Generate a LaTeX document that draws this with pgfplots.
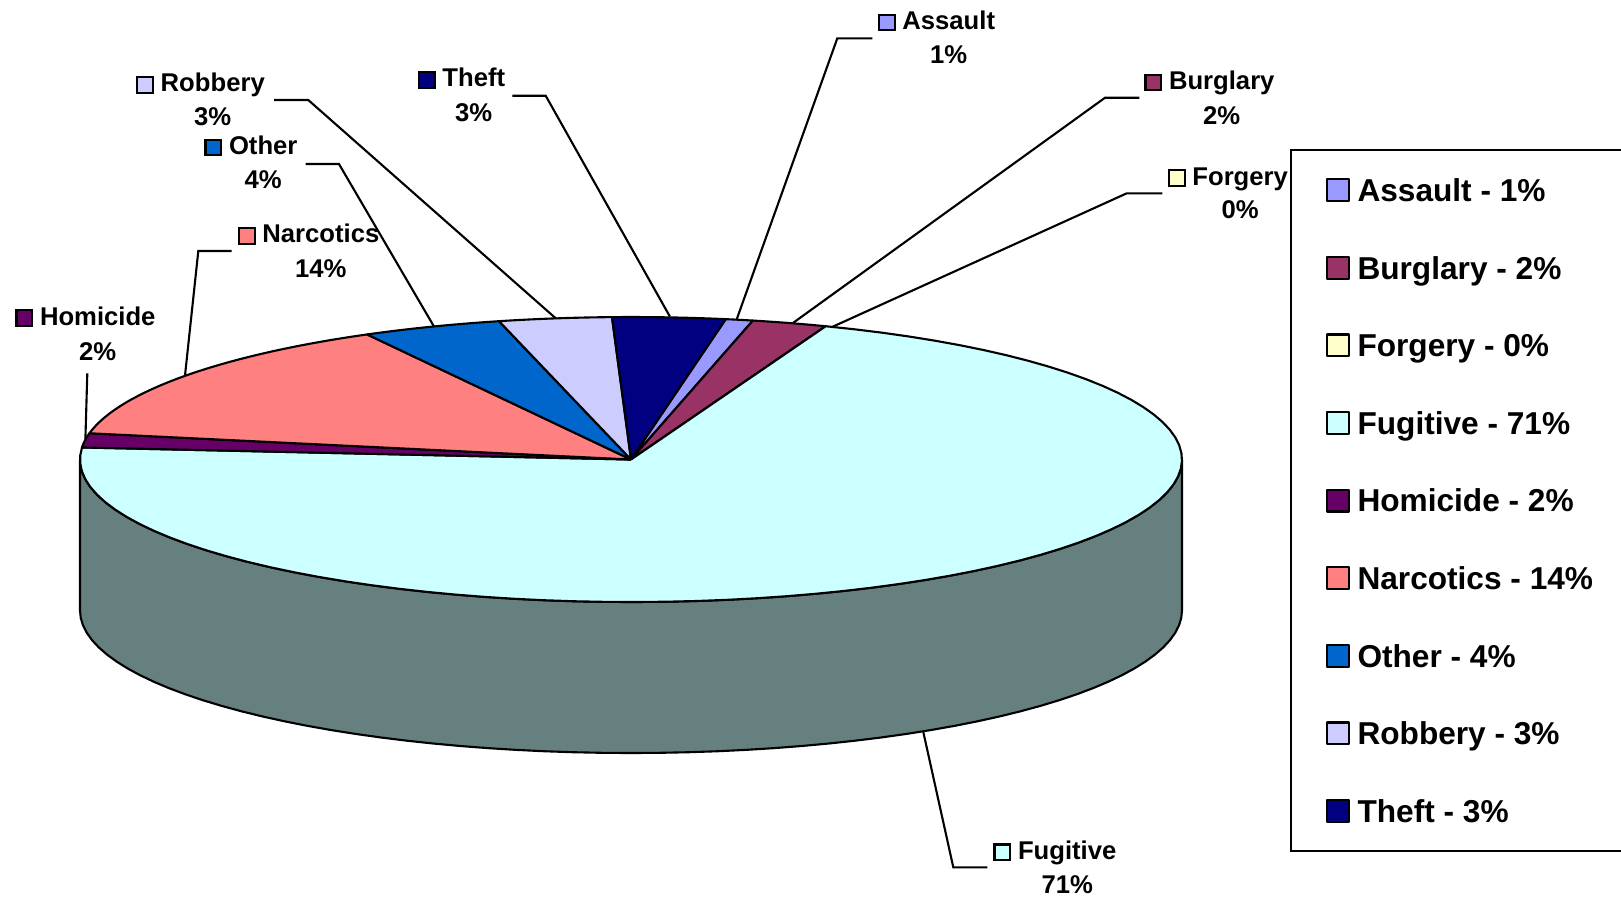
\documentclass[border=0pt]{standalone}
\usepackage{fontspec}
\setmainfont{Liberation Sans}
\usepackage{pgfplots}
\pgfplotsset{compat=1.18}
\definecolor{cAssault}{HTML}{9999FF}
\definecolor{cBurglary}{HTML}{993366}
\definecolor{cForgery}{HTML}{FFFFCC}
\definecolor{cFugitive}{HTML}{CCFFFF}
\definecolor{cHomicide}{HTML}{660066}
\definecolor{cNarcotics}{HTML}{FF8080}
\definecolor{cOther}{HTML}{0066CC}
\definecolor{cRobbery}{HTML}{CCCCFF}
\definecolor{cTheft}{HTML}{000080}
\definecolor{cSide}{HTML}{668080}
\newcommand\lblfont{\fontsize{7.3}{8}\selectfont\bfseries}
\newcommand\keybox[1]{{\fboxsep=0pt\fboxrule=0.6pt\fcolorbox{black}{#1}{\rule{0pt}{3.9pt}\hspace{3.9pt}}}}
% pie: centre (631,459.5), semi-axes 551 x 142.5, depth 151 (pixel units)
\def\cur{80.1}% first slice starts here (degrees)
\newcommand\slice[3]{%
  \pgfmathsetmacro\nxt{\cur-(#2)*3.6}%
  \edef\doslice{\noexpand\addplot[fill=#1, draw=black, line width=0.6pt, line join=round,
     domain=0:82, samples=83, variable=\noexpand\uu]
   ({631+(\noexpand\uu>0.5)*(\noexpand\uu<81.5)*551*cos(\cur+(\nxt-(\cur))*(\noexpand\uu-1)/80)},
    {459.5-(\noexpand\uu>0.5)*(\noexpand\uu<81.5)*142.5*sin(\cur+(\nxt-(\cur))*(\noexpand\uu-1)/80)});}%
  \doslice
  \addlegendentry{#3}%
  \global\let\cur\nxt
}
\newcommand\plabel[7]{% name, key colour, x, y of name baseline, pct text, node name, line gap
  \node[anchor=base west, inner sep=0pt, font=\lblfont] (#6) at (axis cs:#3,#4) {\llap{\keybox{#2}\hspace{1.9pt}}#1};
  \node[anchor=base, inner sep=0pt, font=\lblfont] at ([yshift=-#7]#6.base) {#5};
}
\begin{document}
\begin{tikzpicture}
\begin{axis}[
  scale only axis, width=16.21cm, height=9cm,
  xmin=0, xmax=1621, ymin=0, ymax=900, y dir=reverse,
  hide axis, clip=false,
  legend cell align=left,
  legend image code/.code={\draw[#1, draw=black, line width=0.6pt] (0pt,-3.1pt) rectangle (6.2pt,3.1pt);},
  legend style={at={(0.7958,0.8341)}, anchor=north west, draw=black, line width=0.6pt,
    inner xsep=10.05pt, inner ysep=7.12pt, row sep=13.68pt, column sep=2.06pt,
    font=\fontsize{9}{10}\selectfont\bfseries,
    nodes={inner sep=0pt, text height=7.4pt, text depth=1pt}},
]
% side wall (front part of the Fugitive slice)
\addplot[fill=cSide, draw=black, line width=0.6pt, line join=round, forget plot,
  domain=0:122, samples=123, variable=\uu]
 ({631+551*cos( (\uu<60.5) ? (180+3*\uu) : ((\uu<121.5) ? (360-3*(\uu-61)) : 180) )},
  {459.5-142.5*sin( (\uu<60.5) ? (180+3*\uu) : ((\uu<121.5) ? (360-3*(\uu-61)) : 180) )+151*(\uu>60.5)*(\uu<121.5)});
% slices (percent of total), clockwise
\slice{cAssault}{0.8}{Assault - 1\%}
\slice{cBurglary}{2.2}{Burglary - 2\%}
\slice{cForgery}{0}{Forgery - 0\%}
\slice{cFugitive}{70.6}{Fugitive - 71\%}
\slice{cHomicide}{1.6}{Homicide - 2\%}
\slice{cNarcotics}{14.1}{Narcotics - 14\%}
\slice{cOther}{4.1}{Other - 4\%}
\slice{cRobbery}{3.3}{Robbery - 3\%}
\slice{cTheft}{3.3}{Theft - 3\%}
% leader lines
\addplot[black, line width=0.6pt, forget plot] coordinates {(736.7,319.3) (837.3,38.3) (872.3,38.3)};
\addplot[black, line width=0.6pt, forget plot] coordinates {(793.3,322.7) (1105,97.7) (1139.3,97.7)};
\addplot[black, line width=0.6pt, forget plot] coordinates {(832,327) (1126.7,193.3) (1162.3,193.3)};
\addplot[black, line width=0.6pt, forget plot] coordinates {(923.3,732) (953.3,867.3) (987.3,867.3)};
\addplot[black, line width=0.6pt, forget plot] coordinates {(85.4,439) (87.3,373.3)};
\addplot[black, line width=0.6pt, forget plot] coordinates {(185,375.5) (198.3,251) (231.7,251)};
\addplot[black, line width=0.6pt, forget plot] coordinates {(434,326.5) (339,164) (305.7,164)};
\addplot[black, line width=0.6pt, forget plot] coordinates {(556,318.5) (308.3,100) (274,100)};
\addplot[black, line width=0.6pt, forget plot] coordinates {(670,316.7) (545.7,95.7) (512.3,95.7)};
% labels
\plabel{Assault}{cAssault}{901.7}{29.3}{1\%}{nA}{9.67pt}
\plabel{Burglary}{cBurglary}{1168.3}{89.3}{2\%}{nB}{9.87pt}
\plabel{Forgery}{cForgery}{1191.7}{185}{0\%}{nF}{9.48pt}
\plabel{Fugitive}{cFugitive}{1017.3}{859.3}{71\%}{nG}{9.67pt}
\plabel{Homicide}{cHomicide}{39.3}{325}{2\%}{nH}{9.96pt}
\plabel{Narcotics}{cNarcotics}{261.7}{242.7}{14\%}{nN}{9.84pt}
\plabel{Other}{cOther}{228.3}{154.3}{4\%}{nO}{9.67pt}
\plabel{Robbery}{cRobbery}{160}{91.7}{3\%}{nR}{9.47pt}
\plabel{Theft}{cTheft}{441.7}{86.7}{3\%}{nT}{9.96pt}
\end{axis}
\pgfresetboundingbox
\path (0,0) rectangle (16.21cm,9cm);
\end{tikzpicture}
\end{document}
